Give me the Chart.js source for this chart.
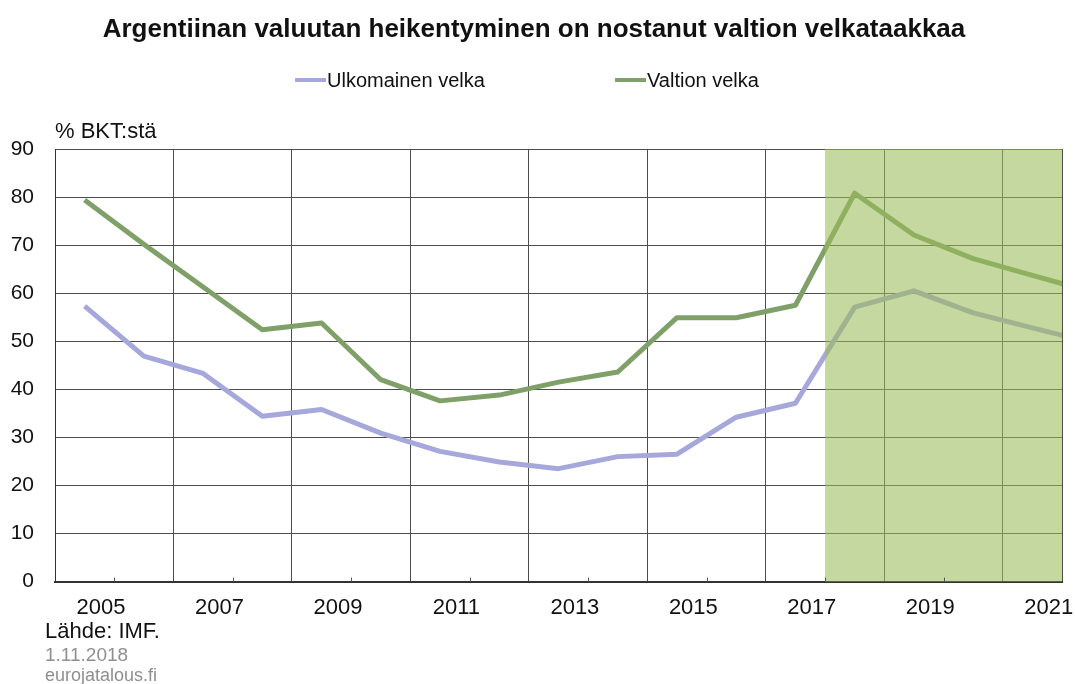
<!DOCTYPE html>
<html>
<head>
<meta charset="utf-8">
<script src="https://cdn.jsdelivr.net/npm/chart.js@4.4.1/dist/chart.umd.min.js"></script>
<style>
  html, body { margin: 0; padding: 0; background: #fff; }
  body { width: 1075px; height: 684px; position: relative; overflow: hidden; font-family: "Liberation Sans", Arial, sans-serif; }
  #wrap { position: absolute; left: 0; top: 0; width: 1075px; height: 684px; }
  .txt { position: absolute; white-space: nowrap; color: #111; line-height: 1; }
  #title { left: 0; width: 1068px; top: 15px; text-align: center; font-weight: bold; font-size: 26px; }
  .leg { top: 70px; font-size: 20px; display: flex; align-items: center; }
  .leg span.line { display: inline-block; width: 31px; height: 4px; margin-right: 1px; }
  #unit { left: 55px; top: 120px; font-size: 22px; }
  #src { left: 45px; top: 620px; font-size: 22px; }
  #date { left: 45px; top: 645px; font-size: 19px; color: #8f8f8f; }
  #site { left: 45px; top: 666px; font-size: 18px; color: #8f8f8f; }
</style>
</head>
<body>
<div id="wrap"><canvas id="myChart" width="1075" height="684"></canvas></div>
<div class="txt" id="title">Argentiinan valuutan heikentyminen on nostanut valtion velkataakkaa</div>
<div class="txt leg" style="left:295px"><span class="line" style="background:#a6a7da"></span>Ulkomainen velka</div>
<div class="txt leg" style="left:615px"><span class="line" style="background:#7fa068"></span>Valtion velka</div>
<div class="txt" id="unit">% BKT:stä</div>
<div class="txt" id="src">Lähde: IMF.</div>
<div class="txt" id="date">1.11.2018</div>
<div class="txt" id="site">eurojatalous.fi</div>

<script>
// years (last one runs past the right edge of the plot and is clipped)
var years = [2005, 2006, 2007, 2008, 2009, 2010, 2011, 2012, 2013, 2014, 2015, 2016, 2017, 2018, 2019, 2020, 2021, 2022];
var ulkomainenVelka = [57.3, 46.9, 43.3, 34.4, 35.8, 30.9, 27.1, 24.9, 23.5, 26.0, 26.5, 34.2, 37.1, 57.1, 60.5, 55.9, 52.8, 49.7];
var valtionVelka = [79.4, 70.2, 61.3, 52.4, 53.8, 42.0, 37.6, 38.8, 41.5, 43.6, 54.9, 54.9, 57.5, 80.8, 72.1, 67.2, 63.7, 60.3];
var tickLabels = ['2005', '2007', '2009', '2011', '2013', '2015', '2017', '2019', '2021'];
var forecastFrom = 2018;
var firstYear = 2005, lastYear = 2021;

function toPoints(vals) {
  return vals.map(function (v, i) { return { x: years[i], y: v }; });
}

// green forecast box, drawn on top of lines (semi transparent)
var forecastBox = {
  id: 'forecastBox',
  afterDatasetsDraw: function (chart) {
    var ctx = chart.ctx, area = chart.chartArea, xs = chart.scales.x;
    var x0 = xs.getPixelForValue(forecastFrom - 0.5);
    ctx.save();
    ctx.fillStyle = 'rgba(155, 187, 89, 0.58)';
    ctx.fillRect(x0, area.top, area.right - x0, area.bottom - area.top);
    ctx.restore();
  }
};

// short marks on the x axis between the labelled gridlines
var minorMarks = {
  id: 'minorMarks',
  afterDraw: function (chart) {
    var ctx = chart.ctx, area = chart.chartArea, xs = chart.scales.x;
    ctx.save();
    ctx.strokeStyle = '#555';
    ctx.lineWidth = 1;
    tickLabels.forEach(function (l) {
      var x = Math.round(xs.getPixelForValue(Number(l) + 0.5)) + 0.5;
      if (x >= area.right) return;
      ctx.beginPath();
      ctx.moveTo(x, area.bottom);
      ctx.lineTo(x, area.bottom - 4);
      ctx.stroke();
    });
    ctx.restore();
  }
};

var ctx = document.getElementById('myChart').getContext('2d');
var myChart = new Chart(ctx, {
  type: 'line',
  data: {
    datasets: [{
      label: 'Ulkomainen velka',
      data: toPoints(ulkomainenVelka),
      borderColor: '#a6a7da',
      borderWidth: 5,
      pointRadius: 0,
      borderJoinStyle: 'round',
      tension: 0
    }, {
      label: 'Valtion velka',
      data: toPoints(valtionVelka),
      borderColor: '#7fa068',
      borderWidth: 5,
      pointRadius: 0,
      borderJoinStyle: 'round',
      tension: 0
    }]
  },
  options: {
    responsive: false,
    animation: false,
    layout: { padding: { top: 149, right: 13, bottom: 50, left: 0 } },
    plugins: {
      legend: { display: false },
      title: { display: false },
      tooltip: { enabled: false }
    },
    scales: {
      x: {
        type: 'linear',
        min: firstYear - 0.5,
        max: lastYear + 0.5,
        afterBuildTicks: function (s) {
          var t = tickLabels.map(function (l) { return { value: Number(l) - 0.5 }; });
          t.push({ value: lastYear + 0.5 });
          s.ticks = t;
        },
        grid: { color: '#4d4d4d', lineWidth: 1, drawTicks: false },
        border: { color: '#333', width: 2 },
        ticks: {
          autoSkip: false,
          maxRotation: 0,
          padding: 13,
          labelOffset: 46,
          color: '#111',
          font: { family: 'Liberation Sans', size: 22 },
          callback: function (v) {
            var l = String(v + 0.5);
            return tickLabels.indexOf(l) >= 0 ? l : '';
          }
        }
      },
      y: {
        min: 0,
        max: 90,
        afterFit: function (s) { s.width = 55; },
        grid: { color: '#4d4d4d', lineWidth: 1, drawTicks: false },
        border: { color: '#333', width: 1 },
        ticks: {
          stepSize: 10,
          padding: 21,
          color: '#111',
          font: { family: 'Liberation Sans', size: 21 }
        }
      }
    }
  },
  plugins: [forecastBox, minorMarks]
});
</script>
</body>
</html>
